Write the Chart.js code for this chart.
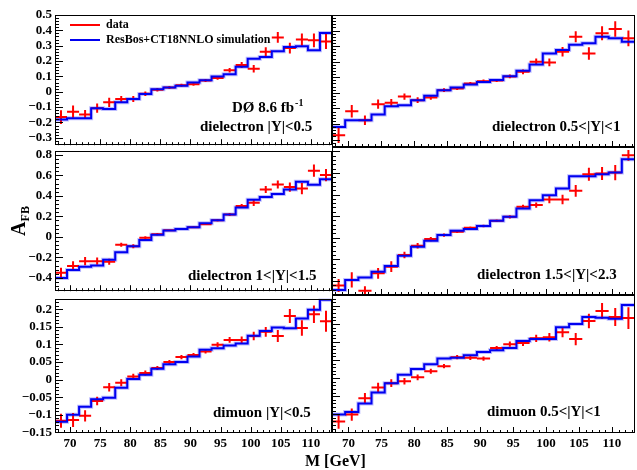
<!DOCTYPE html>
<html>
<head>
<meta charset="utf-8">
<script src="https://cdn.jsdelivr.net/npm/chart.js@4.4.0/dist/chart.umd.min.js"></script>
<style>
  body { margin: 0; background: #fff; }
  #wrap { position: relative; width: 637px; height: 470px; overflow: hidden; background: #fff;
          font-family: "Liberation Serif", "Times New Roman", serif; font-weight: bold; color: #000; }
  #wrap canvas { position: absolute; }
  .ttl { position: absolute; white-space: nowrap; }
  #xtitle { left: 305px; top: 452px; font-size: 16px; line-height: 18px; }
  #ytitle { left: -12px; top: 209px; width: 60px; height: 24px; line-height: 24px; text-align: center;
            font-size: 20px; transform: rotate(-90deg); }
  #ytitle sub { font-size: 12px; vertical-align: -4px; }
</style>
</head>
<body>
<div id="wrap">
  <canvas id="c_tl" width="340" height="156" style="left:0;top:0"></canvas>
  <canvas id="c_tr" width="312" height="156" style="left:325px;top:0"></canvas>
  <canvas id="c_ml" width="340" height="162" style="left:0;top:140px"></canvas>
  <canvas id="c_mr" width="312" height="162" style="left:325px;top:140px"></canvas>
  <canvas id="c_bl" width="340" height="182" style="left:0;top:288px"></canvas>
  <canvas id="c_br" width="312" height="182" style="left:325px;top:288px"></canvas>
  <div class="ttl" id="xtitle">M [GeV]</div>
  <div class="ttl" id="ytitle">A<sub>FB</sub></div>
</div>
<script>
// mass bin edges (GeV), 23 bins
var massEdges = [67.5, 69.5, 71.5, 73.5, 75.5, 77.5, 79.5, 81.5, 83.5, 85.5, 87.5, 89.5,
                 91.5, 93.5, 95.5, 97.5, 99.5, 101.5, 103.5, 105.5, 107.5, 109.5, 111.5, 113.5];
var massTicks = [70, 75, 80, 85, 90, 95, 100, 105, 110];

// dielectron |Y|<0.5
var ee1Data = [-0.165, -0.13, -0.148, -0.107, -0.069, -0.047, -0.047, -0.013, 0.013, 0.028, 0.043, 0.049,
               0.073, 0.09, 0.14, 0.174, 0.15, 0.26, 0.354, 0.285, 0.34, 0.335, 0.328];
var ee1Err  = [0.045, 0.04, 0.03, 0.03, 0.03, 0.02, 0.02, 0.015, 0.012, 0.01, 0.01, 0.01,
               0.01, 0.012, 0.015, 0.02, 0.025, 0.03, 0.035, 0.035, 0.04, 0.045, 0.05];
var ee1Sim  = [-0.18, -0.172, -0.172, -0.107, -0.112, -0.069, -0.047, -0.015, 0.017, 0.028, 0.039, 0.06,
               0.075, 0.099, 0.114, 0.163, 0.215, 0.227, 0.264, 0.292, 0.296, 0.27, 0.382];

// dielectron 0.5<|Y|<1
var ee2Data = [-0.273, -0.118, -0.176, -0.073, -0.064, -0.024, -0.047, -0.03, 0.017, 0.028, 0.06, 0.075,
               0.079, 0.105, 0.135, 0.2, 0.195, 0.264, 0.36, 0.253, 0.382, 0.41, 0.35];
var ee2Err  = [0.05, 0.04, 0.03, 0.03, 0.025, 0.02, 0.018, 0.015, 0.012, 0.01, 0.01, 0.01,
               0.01, 0.012, 0.015, 0.02, 0.025, 0.03, 0.035, 0.04, 0.045, 0.05, 0.05];
var ee2Sim  = [-0.219, -0.176, -0.176, -0.139, -0.086, -0.079, -0.047, -0.019, 0.017, 0.034, 0.054, 0.069,
               0.082, 0.107, 0.142, 0.182, 0.253, 0.275, 0.309, 0.318, 0.36, 0.35, 0.328];

// dielectron 1<|Y|<1.5
var ee3Data = [-0.351, -0.283, -0.237, -0.237, -0.243, -0.077, -0.092, -0.009, 0.025, 0.065, 0.077, 0.095,
               0.123, 0.163, 0.218, 0.302, 0.332, 0.462, 0.511, 0.486, 0.471, 0.646, 0.603];
var ee3Err  = [0.05, 0.045, 0.04, 0.035, 0.03, 0.02, 0.02, 0.015, 0.012, 0.01, 0.01, 0.01,
               0.01, 0.012, 0.015, 0.02, 0.03, 0.035, 0.04, 0.045, 0.055, 0.06, 0.06];
var ee3Sim  = [-0.4, -0.323, -0.292, -0.28, -0.222, -0.151, -0.092, -0.031, 0.022, 0.062, 0.077, 0.095,
               0.132, 0.163, 0.218, 0.286, 0.363, 0.388, 0.418, 0.462, 0.538, 0.508, 0.563];

// dielectron 1.5<|Y|<2.3
var ee4Data = [-0.443, -0.39, -0.49, -0.329, -0.268, -0.16, -0.074, -0.012, 0.025, 0.055, 0.092, 0.108,
               0.157, 0.194, 0.286, 0.302, 0.354, 0.354, 0.434, 0.588, 0.594, 0.603, 0.763];
var ee4Err  = [0.06, 0.07, 0.04, 0.05, 0.05, 0.03, 0.025, 0.02, 0.015, 0.012, 0.012, 0.012,
               0.012, 0.015, 0.02, 0.025, 0.035, 0.045, 0.055, 0.06, 0.06, 0.07, 0.05];
var ee4Sim  = [-0.483, -0.39, -0.369, -0.314, -0.262, -0.166, -0.083, -0.028, 0.025, 0.065, 0.08, 0.108,
               0.157, 0.194, 0.271, 0.348, 0.394, 0.455, 0.569, 0.569, 0.588, 0.603, 0.726];

// dimuon |Y|<0.5
var mm1Data = [-0.117, -0.115, -0.103, -0.061, -0.022, -0.009, 0.009, 0.019, 0.033, 0.05, 0.064, 0.07,
               0.08, 0.099, 0.113, 0.113, 0.124, 0.136, 0.124, 0.181, 0.147, 0.186, 0.166];
var mm1Err  = [0.02, 0.02, 0.016, 0.012, 0.012, 0.01, 0.008, 0.007, 0.006, 0.006, 0.006, 0.006,
               0.006, 0.007, 0.008, 0.01, 0.012, 0.014, 0.017, 0.02, 0.022, 0.025, 0.03];
var mm1Sim  = [-0.12, -0.1, -0.077, -0.056, -0.052, -0.023, 0.002, 0.014, 0.031, 0.044, 0.05, 0.066,
               0.085, 0.089, 0.097, 0.103, 0.125, 0.138, 0.148, 0.146, 0.174, 0.199, 0.227];

// dimuon 0.5<|Y|<1
var mm2Data = [-0.12, -0.101, -0.056, -0.026, -0.014, -0.009, 0.002, 0.019, 0.033, 0.058, 0.056, 0.054,
               0.083, 0.094, 0.097, 0.11, 0.113, 0.127, 0.108, 0.158, 0.186, 0.169, 0.166];
var mm2Err  = [0.02, 0.017, 0.015, 0.013, 0.011, 0.009, 0.008, 0.007, 0.006, 0.006, 0.006, 0.006,
               0.006, 0.007, 0.008, 0.01, 0.012, 0.014, 0.017, 0.02, 0.022, 0.025, 0.03];
var mm2Sim  = [-0.101, -0.094, -0.07, -0.04, -0.014, 0.009, 0.025, 0.038, 0.054, 0.056, 0.063, 0.072,
               0.077, 0.083, 0.103, 0.108, 0.108, 0.141, 0.15, 0.169, 0.167, 0.164, 0.202];

// y tick labels per row
var topTicks = [-0.3, -0.2, -0.1, 0, 0.1, 0.2, 0.3, 0.4, 0.5];
var midTicks = [-0.4, -0.2, 0, 0.2, 0.4, 0.6, 0.8];
var botTicks = [-0.15, -0.1, -0.05, 0, 0.05, 0.1, 0.15, 0.2];

var FONT = '"Liberation Serif", "Times New Roman", serif';

function crossPoints(vals, errs) {
  var pts = [];
  vals.forEach(function (v, i) {
    var lo = massEdges[i], hi = massEdges[i + 1], c = (lo + hi) / 2;
    pts.push({x: lo, y: v}, {x: hi, y: v}, {x: hi, y: null});
    pts.push({x: c, y: v - errs[i]}, {x: c, y: v + errs[i]}, {x: c, y: null});
  });
  return pts;
}

// points at left bin edges + closing point; drawn horizontal-first
function stepPoints(vals) {
  var pts = vals.map(function (v, i) { return {x: massEdges[i], y: v}; });
  pts.push({x: massEdges[vals.length], y: vals[vals.length - 1]});
  return pts;
}

function fmt(v) {
  var s = String(parseFloat(v.toFixed(2)));
  return s.replace('-', '\u2212');
}

// frame, inward ticks, labels, legend
var deco = {
  id: 'deco',
  afterDraw: function (chart, args, o) {
    var ctx = chart.ctx, a = chart.chartArea, xs = chart.scales.x, ys = chart.scales.y;
    ctx.save();
    ctx.strokeStyle = '#000';
    ctx.lineWidth = 1;
    ctx.beginPath();
    var k, v, p, major;
    for (k = Math.ceil(ys.min / o.yMinor - 1e-6); k * o.yMinor <= ys.max + 1e-9; k++) {
      v = k * o.yMinor;
      major = Math.abs(v / o.yMajor - Math.round(v / o.yMajor)) < 1e-6;
      p = Math.round(ys.getPixelForValue(v)) + 0.5;
      ctx.moveTo(a.left, p);
      ctx.lineTo(a.left + (major ? 8 : 4), p);
    }
    for (k = Math.ceil(xs.min); k <= xs.max; k++) {
      major = k % 5 === 0;
      p = Math.round(xs.getPixelForValue(k)) + 0.5;
      ctx.moveTo(p, a.bottom);
      ctx.lineTo(p, a.bottom - (major ? 6 : 3));
    }
    ctx.stroke();
    ctx.strokeRect(Math.round(a.left) + 0.5, Math.round(a.top) + 0.5,
                   Math.round(a.right - a.left) - 1, Math.round(a.bottom - a.top) - 1);

    ctx.fillStyle = '#000';
    ctx.textBaseline = 'middle';
    ctx.textAlign = 'left';
    ctx.font = 'bold 15px ' + FONT;
    ctx.fillText(o.label, o.lx - o.ox, o.ly - o.oy);

    if (o.legend) {
      ctx.font = 'bold 15px ' + FONT;
      ctx.fillText('D\u00D8 8.6 fb', 232 - o.ox, 108 - o.oy);
      var w = ctx.measureText('D\u00D8 8.6 fb').width;
      ctx.font = 'bold 10px ' + FONT;
      ctx.fillText('-1', 232 + w + 1 - o.ox, 103 - o.oy);

      ctx.lineWidth = 2;
      ctx.strokeStyle = '#ff0000';
      ctx.beginPath(); ctx.moveTo(70, 25); ctx.lineTo(100, 25); ctx.stroke();
      ctx.strokeStyle = '#0000f0';
      ctx.beginPath(); ctx.moveTo(70, 40); ctx.lineTo(100, 40); ctx.stroke();
      ctx.font = 'bold 12px ' + FONT;
      ctx.fillText('data', 106, 25);
      ctx.fillText('ResBos+CT18NNLO simulation', 106, 40);
    }
    ctx.restore();
  }
};

function makePanel(p) {
  var left = p.col === 0;
  var bottom = p.row === 2;
  var pad = {left: left ? 0 : 7, right: left ? 8 : 2, top: p.padTop, bottom: bottom ? 0 : p.padBottom};
  return new Chart(document.getElementById(p.id), {
    type: 'line',
    data: {
      datasets: [
        {data: stepPoints(p.sim), stepped: 'before', borderColor: '#0000f0', borderWidth: 2,
         pointRadius: 0, order: 0},
        {data: crossPoints(p.data, p.err), borderColor: '#ff0000', borderWidth: 2,
         pointRadius: 0, spanGaps: false, order: 1},
        {data: stepPoints(p.sim), stepped: 'before', borderColor: 'rgba(110,110,255,0.45)', borderWidth: 4,
         pointRadius: 0, order: 2}
      ]
    },
    options: {
      responsive: false,
      animation: false,
      events: [],
      layout: {padding: pad},
      plugins: {
        legend: {display: false},
        tooltip: {enabled: false},
        deco: {label: p.label, lx: p.lx, ly: p.ly, ox: p.ox, oy: p.oy,
               yMajor: p.yMajor, yMinor: p.yMinor, legend: !!p.legend}
      },
      scales: {
        x: {
          type: 'linear', min: massEdges[0], max: massEdges[massEdges.length - 1],
          display: bottom,
          grid: {display: false, drawTicks: false},
          border: {display: false},
          ticks: {color: '#000', font: {family: FONT, size: 13, weight: 'bold'}, padding: 3,
                  maxRotation: 0, autoSkip: false, callback: function (v) { return String(v); }},
          afterBuildTicks: function (s) { s.ticks = massTicks.map(function (v) { return {value: v}; }); },
          afterFit: function (s) { s.height = bottom ? 37 : 0; }
        },
        y: {
          type: 'linear', min: p.yMin, max: p.yMax,
          display: left,
          grid: {display: false, drawTicks: false},
          border: {display: false},
          ticks: {color: '#000', font: {family: FONT, size: 13, weight: 'bold'}, padding: 3,
                  autoSkip: false, callback: function (v) { return fmt(v); }},
          afterBuildTicks: function (s) { s.ticks = p.ticks.map(function (v) { return {value: v}; }); },
          afterFit: function (s) { s.width = left ? 55 : 0; }
        }
      }
    },
    plugins: [deco]
  });
}

var rowY = [
  {yMin: -0.348, yMax: 0.5, ticks: topTicks, yMajor: 0.1, yMinor: 0.02, padTop: 15, padBottom: 9, oy: 0},
  {yMin: -0.53, yMax: 0.84, ticks: midTicks, yMajor: 0.2, yMinor: 0.04, padTop: 7, padBottom: 7, oy: 140},
  {yMin: -0.152, yMax: 0.23, ticks: botTicks, yMajor: 0.05, yMinor: 0.01, padTop: 7, padBottom: 0, oy: 288}
];

var panels = [
  {id: 'c_tl', row: 0, col: 0, data: ee1Data, err: ee1Err, sim: ee1Sim, label: 'dielectron |Y|<0.5', lx: 200, ly: 127, legend: true},
  {id: 'c_tr', row: 0, col: 1, data: ee2Data, err: ee2Err, sim: ee2Sim, label: 'dielectron 0.5<|Y|<1', lx: 492, ly: 127},
  {id: 'c_ml', row: 1, col: 0, data: ee3Data, err: ee3Err, sim: ee3Sim, label: 'dielectron 1<|Y|<1.5', lx: 188, ly: 276},
  {id: 'c_mr', row: 1, col: 1, data: ee4Data, err: ee4Err, sim: ee4Sim, label: 'dielectron 1.5<|Y|<2.3', lx: 477, ly: 275},
  {id: 'c_bl', row: 2, col: 0, data: mm1Data, err: mm1Err, sim: mm1Sim, label: 'dimuon |Y|<0.5', lx: 213, ly: 413},
  {id: 'c_br', row: 2, col: 1, data: mm2Data, err: mm2Err, sim: mm2Sim, label: 'dimuon 0.5<|Y|<1', lx: 487, ly: 412}
];

panels.forEach(function (p) {
  var r = rowY[p.row];
  makePanel(Object.assign({}, r, p, {ox: p.col === 0 ? 0 : 325}));
});
</script>
</body>
</html>
